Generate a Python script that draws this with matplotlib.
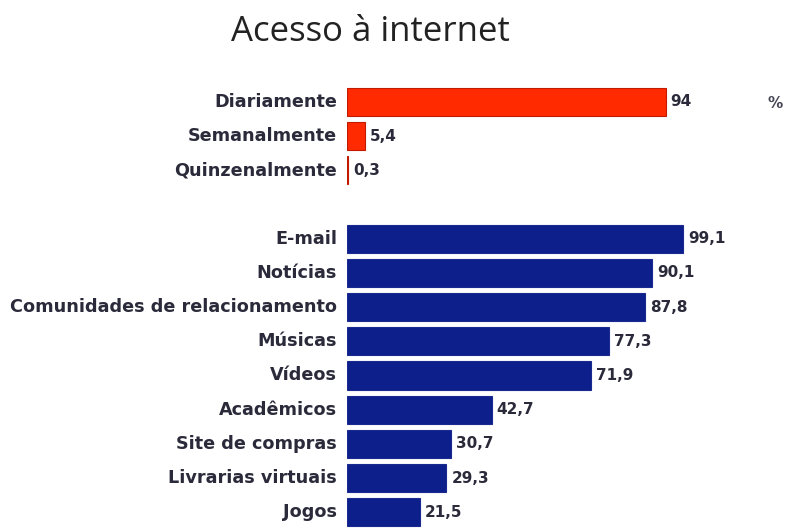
import matplotlib.pyplot as plt

# frequência de acesso (%)
freq_labels = ['Diariamente', 'Semanalmente', 'Quinzenalmente']
freq_values = [94, 5.4, 0.3]

# o que se acessa (%)
uso_labels = ['E-mail', 'Notícias', 'Comunidades de relacionamento', 'Músicas',
              'Vídeos', 'Acadêmicos', 'Site de compras', 'Livrarias virtuais', 'Jogos']
uso_values = [99.1, 90.1, 87.8, 77.3, 71.9, 42.7, 30.7, 29.3, 21.5]

RED = '#ff2a00'
NAVY = '#0d1f8a'
TXT = '#2a2a3a'


def fmt(v):
    return ('%g' % v).replace('.', ',')


def main():
    fig = plt.figure(figsize=(7.89, 5.28), dpi=100)
    # eixo que vai da borda das barras ate a direita da figura
    ax = fig.add_axes([347 / 789, 0, 442 / 789, 1])
    ax.set_xlim(0, 442 / 3.39)
    ax.set_ylim(12.46, -2.98)
    ax.axis('off')

    ypos_freq = [0, 1, 2]
    ypos_uso = [4 + i for i in range(len(uso_values))]

    ax.barh(ypos_freq, freq_values, height=0.82, color=RED, edgecolor='#c01a00', linewidth=0.8)
    ax.barh(ypos_uso, uso_values, height=0.82, color=NAVY, edgecolor='#1a2a90', linewidth=0.8)

    labels = freq_labels + uso_labels
    values = freq_values + uso_values
    ypos = ypos_freq + ypos_uso
    for y, lab, v in zip(ypos, labels, values):
        ax.annotate(lab, (0, y), xytext=(-10, 0), textcoords='offset pixels',
                    ha='right', va='center', fontsize=12.7, fontweight='bold',
                    color=TXT, annotation_clip=False)
        ax.annotate(fmt(v), (v, y), xytext=(5, 0), textcoords='offset pixels',
                    ha='left', va='center', fontsize=11, fontweight='bold',
                    color=TXT, annotation_clip=False)

    fig.text(775 / 789, 1 - 104 / 528, '%', ha='center', va='center',
             fontsize=11, fontweight='bold', color='#444455')

    fig.text(370 / 789, 1 - 32 / 528, 'Acesso à internet', ha='center', va='center',
             fontsize=25, family='Open Sans', color='#222222')

    fig.savefig('out.png', dpi=100)


if __name__ == '__main__':
    main()
